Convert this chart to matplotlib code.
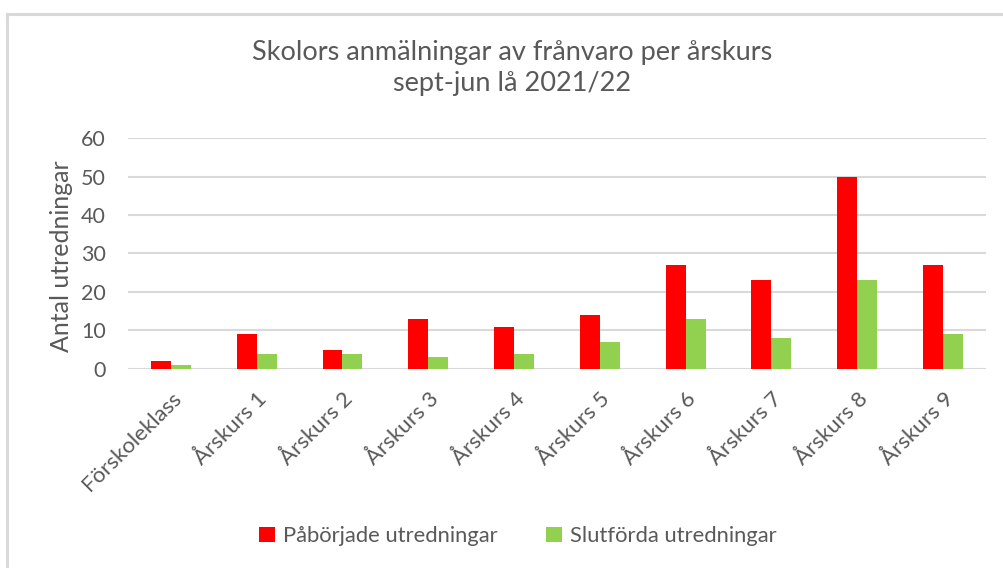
import numpy as np
import matplotlib.pyplot as plt
from matplotlib.lines import Line2D

plt.rcParams['font.family'] = ['Lato', 'DejaVu Sans']

# data
categories = ['Förskoleklass', 'Årskurs 1', 'Årskurs 2', 'Årskurs 3', 'Årskurs 4',
              'Årskurs 5', 'Årskurs 6', 'Årskurs 7', 'Årskurs 8', 'Årskurs 9']
paborjade = [2, 9, 5, 13, 11, 14, 27, 23, 50, 27]
slutforda = [1, 4, 4, 3, 4, 7, 13, 8, 23, 9]

grey_text = '#595959'
grid_col = '#d9d9d9'

fig = plt.figure(figsize=(10.04, 5.68), dpi=100)
ax = fig.add_axes([0.1275, 0.3504, 0.8545, 0.4066])

x = np.arange(len(categories))
w = 0.233
ax.bar(x - w / 2, paborjade, w, color='#ff0000', label='Påbörjade utredningar', zorder=3)
ax.bar(x + w / 2, slutforda, w, color='#92d050', label='Slutförda utredningar', zorder=3)

ax.set_xlim(-0.5, len(categories) - 0.5)
ax.set_ylim(0, 60)
ax.set_yticks(range(0, 61, 10))
ax.yaxis.grid(True, color=grid_col, linewidth=1.5, zorder=0)
ax.set_axisbelow(True)
for s in ax.spines.values():
    s.set_visible(False)
ax.tick_params(axis='both', length=0, colors=grey_text, labelsize=15.5)
ax.tick_params(axis='y', pad=16)

ax.set_xticks(x)
ax.set_xticklabels(categories, rotation=45, ha='right', rotation_mode='anchor')
for lbl in ax.get_xticklabels():
    lbl.set_color(grey_text)
    lbl.set_fontsize(16)
ax.tick_params(axis='x', pad=14)

ax.set_ylabel('Antal utredningar', fontsize=18, color=grey_text)
ax.yaxis.set_label_coords(-0.064, 0.49)

fig.text(0.51, 0.88, 'Skolors anmälningar av frånvaro per årskurs\nsept-jun lå 2021/22',
         ha='center', va='center', fontsize=19.5, color=grey_text, linespacing=1.3)

leg = fig.legend(loc='center', bbox_to_anchor=(0.516, 0.056), ncol=2, frameon=False,
                 fontsize=15.8, handlelength=0.7, handleheight=0.7, handletextpad=0.4,
                 columnspacing=2.2)
for t in leg.get_texts():
    t.set_color(grey_text)

# outer chart border (only top and left visible in the crop)
fig.add_artist(Line2D([0.007, 1.0], [0.9754, 0.9754], color=grid_col, linewidth=2.2,
                      transform=fig.transFigure))
fig.add_artist(Line2D([0.007, 0.007], [0.0, 0.9754], color=grid_col, linewidth=2.2,
                      transform=fig.transFigure))

fig.savefig('out.png', dpi=100)
